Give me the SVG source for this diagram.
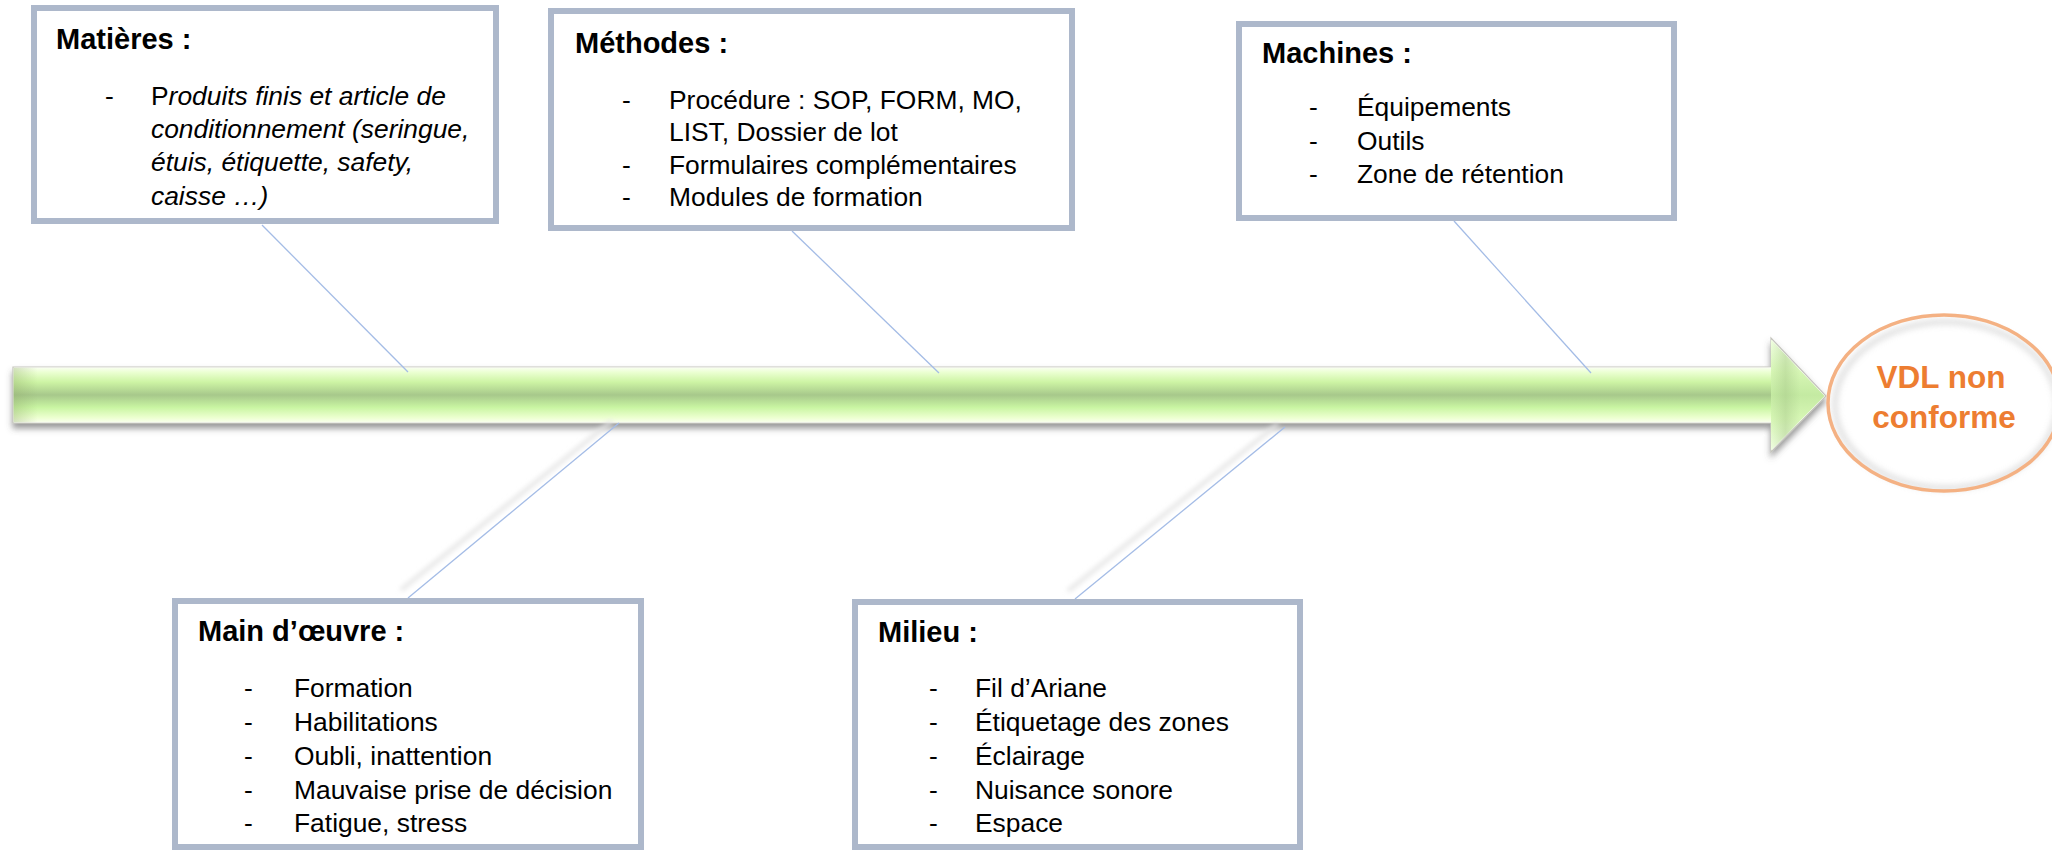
<svg xmlns="http://www.w3.org/2000/svg" width="2052" height="854" viewBox="0 0 2052 854">
  <style>
    .box { fill: #ffffff; stroke: #adb8cb; stroke-width: 6; }
    .title { font-family: "Liberation Sans", Arial, sans-serif; font-weight: bold; font-size: 29px; fill: #000000; }
    .item { font-family: "Liberation Sans", Arial, sans-serif; font-size: 26.4px; fill: #000000; }
    .it { font-style: italic; }
    .bone { stroke: #a4bce6; stroke-width: 1.3; fill: none; }
    .bone-shadow { stroke: #e4e4e4; stroke-width: 4; fill: none; filter: url(#soft); }
    .effect { font-family: "Liberation Sans", Arial, sans-serif; font-weight: bold; font-size: 31.5px; fill: #ed7d31; text-anchor: middle; }
  </style>
  <defs>
    <linearGradient id="spineGrad" gradientUnits="userSpaceOnUse" x1="0" y1="367" x2="0" y2="423">
      <stop offset="0" stop-color="#fbfff4"/>
      <stop offset="0.1" stop-color="#eaffd0"/>
      <stop offset="0.27" stop-color="#cdf4a4"/>
      <stop offset="0.5" stop-color="#a7c88b"/>
      <stop offset="0.72" stop-color="#c9f5a2"/>
      <stop offset="0.9" stop-color="#ecffcf"/>
      <stop offset="1" stop-color="#fbfff1"/>
    </linearGradient>
    <linearGradient id="headGrad" gradientUnits="userSpaceOnUse" x1="0" y1="338" x2="0" y2="452">
      <stop offset="0" stop-color="#f2ffe4"/>
      <stop offset="0.3" stop-color="#d6f6b4"/>
      <stop offset="0.5" stop-color="#c4eaa2"/>
      <stop offset="0.7" stop-color="#d6f6b4"/>
      <stop offset="1" stop-color="#f2ffe4"/>
    </linearGradient>
    <linearGradient id="capShade" x1="0" y1="0" x2="1" y2="0">
      <stop offset="0" stop-color="#8fa86a" stop-opacity="0.35"/>
      <stop offset="1" stop-color="#8fa86a" stop-opacity="0"/>
    </linearGradient>
    <linearGradient id="baseShade" x1="0" y1="0" x2="1" y2="0">
      <stop offset="0" stop-color="#9cbc80" stop-opacity="0"/>
      <stop offset="0.5" stop-color="#9cbc80" stop-opacity="0.35"/>
      <stop offset="1" stop-color="#9cbc80" stop-opacity="0"/>
    </linearGradient>
    <filter id="spineShadow" x="-2%" y="-30%" width="104%" height="170%">
      <feDropShadow dx="0" dy="5" stdDeviation="3" flood-color="#555555" flood-opacity="0.6"/>
    </filter>
    <filter id="soft" x="-20%" y="-20%" width="140%" height="140%">
      <feGaussianBlur stdDeviation="2.5"/>
    </filter>
    <filter id="ringShade" x="-20%" y="-20%" width="140%" height="140%">
      <feGaussianBlur stdDeviation="3"/>
    </filter>
  </defs>

  <!-- spine arrow -->
  <g id="spine">
    <path d="M13,367 H1771 V338 L1826,396 L1771,452 V423 H13 Z" fill="#ffffff" stroke="#c4c4bc" stroke-width="1.2" filter="url(#spineShadow)"/>
    <rect x="13.6" y="367.6" width="1758" height="54.8" fill="url(#spineGrad)"/>
    <path d="M1771,339.5 L1824.5,396 L1771,450.5 Z" fill="url(#headGrad)"/>
    <rect x="13.6" y="367.6" width="24" height="54.8" fill="url(#capShade)"/>
    <path d="M1771,339.5 L1800,370 L1800,422 L1771,450.5 Z" fill="url(#baseShade)"/>
  </g>

  <!-- bones -->
  <g id="connectors">
    <line class="bone-shadow" x1="401" y1="590" x2="612" y2="421"/>
    <line class="bone-shadow" x1="1068" y1="591" x2="1278" y2="424"/>
    <line class="bone" x1="262" y1="225" x2="408" y2="372"/>
    <line class="bone" x1="792" y1="231" x2="939" y2="373"/>
    <line class="bone" x1="1454" y1="221" x2="1591" y2="373"/>
    <line class="bone" x1="408" y1="598" x2="619" y2="423"/>
    <line class="bone" x1="1075" y1="599" x2="1285" y2="427"/>
  </g>

  <!-- cause boxes -->
  <g id="matieres">
    <rect class="box" x="34" y="8" width="462" height="213"/>
    <text class="title" x="56" y="49">Matières :</text>
    <text class="item" x="105" y="105">-</text>
    <text class="item" x="151" y="105">P<tspan class="it">roduits finis et article de</tspan></text>
    <text class="item it" x="151" y="138">conditionnement (seringue,</text>
    <text class="item it" x="151" y="171">étuis, étiquette, safety,</text>
    <text class="item it" x="151" y="205">caisse …)</text>
  </g>

  <g id="methodes">
    <rect class="box" x="551" y="11" width="521" height="217"/>
    <text class="title" x="575" y="53">Méthodes :</text>
    <text class="item" x="622" y="109">-</text>
    <text class="item" x="669" y="109">Procédure : SOP, FORM, MO,</text>
    <text class="item" x="669" y="141">LIST, Dossier de lot</text>
    <text class="item" x="622" y="174">-</text>
    <text class="item" x="669" y="174">Formulaires complémentaires</text>
    <text class="item" x="622" y="206">-</text>
    <text class="item" x="669" y="206">Modules de formation</text>
  </g>

  <g id="machines">
    <rect class="box" x="1239" y="24" width="435" height="194"/>
    <text class="title" x="1262" y="63">Machines :</text>
    <text class="item" x="1309" y="116">-</text>
    <text class="item" x="1357" y="116">Équipements</text>
    <text class="item" x="1309" y="150">-</text>
    <text class="item" x="1357" y="150">Outils</text>
    <text class="item" x="1309" y="183">-</text>
    <text class="item" x="1357" y="183">Zone de rétention</text>
  </g>

  <g id="main-oeuvre">
    <rect class="box" x="175" y="601" width="466" height="246"/>
    <text class="title" x="198" y="641">Main d’œuvre :</text>
    <text class="item" x="244" y="697">-</text>
    <text class="item" x="294" y="697">Formation</text>
    <text class="item" x="244" y="731">-</text>
    <text class="item" x="294" y="731">Habilitations</text>
    <text class="item" x="244" y="765">-</text>
    <text class="item" x="294" y="765">Oubli, inattention</text>
    <text class="item" x="244" y="799">-</text>
    <text class="item" x="294" y="799">Mauvaise prise de décision</text>
    <text class="item" x="244" y="832">-</text>
    <text class="item" x="294" y="832">Fatigue, stress</text>
  </g>

  <g id="milieu">
    <rect class="box" x="855" y="602" width="445" height="245"/>
    <text class="title" x="878" y="642">Milieu :</text>
    <text class="item" x="929" y="697">-</text>
    <text class="item" x="975" y="697">Fil d’Ariane</text>
    <text class="item" x="929" y="731">-</text>
    <text class="item" x="975" y="731">Étiquetage des zones</text>
    <text class="item" x="929" y="765">-</text>
    <text class="item" x="975" y="765">Éclairage</text>
    <text class="item" x="929" y="799">-</text>
    <text class="item" x="975" y="799">Nuisance sonore</text>
    <text class="item" x="929" y="832">-</text>
    <text class="item" x="975" y="832">Espace</text>
  </g>

  <!-- effect -->
  <g id="effet">
    <ellipse cx="1944" cy="403" rx="116" ry="88" fill="#ffffff"/>
    <ellipse cx="1946" cy="405" rx="111" ry="83" fill="none" stroke="#b8b8b8" stroke-width="4" opacity="0.6" filter="url(#ringShade)"/>
    <ellipse cx="1944" cy="403" rx="116" ry="88" fill="none" stroke="#f4b183" stroke-width="3.5"/>
    <text class="effect" x="1941" y="388">VDL non</text>
    <text class="effect" x="1944" y="428">conforme</text>
  </g>
</svg>
